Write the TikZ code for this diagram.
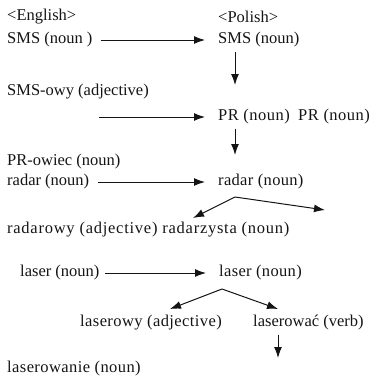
\documentclass[tikz,border=0pt]{standalone}
\usepackage{fontspec}
\setmainfont{Liberation Serif}
\usetikzlibrary{arrows.meta, positioning, calc}
\definecolor{inktext}{RGB}{20, 20, 20}

\tikzset{
  word/.style={anchor=west, inner sep=0pt, font=\fontsize{16.5}{18}\selectfont, text=inktext},
  spaced/.style={word, font=\fontsize{16.5}{18}\selectfont\addfontfeature{LetterSpace=#1}},
  link/.style={draw=inktext, line width=1pt, -{Latex[length=11pt, width=8pt]}},
}

\begin{document}
\begin{tikzpicture}[x=1pt, y=-1pt]
    \useasboundingbox (0,0) rectangle (374,383);

    % left column: English
    \node[word] (headEn)   at (7,17)  {<English>};
    \node[word] (smsEn)    at (7,40)  {SMS (noun )};
    \node[word] (smsAdj)   at (7,92)  {SMS-owy (adjective)};
    \node[word] (prAgent)  at (7,162) {PR-owiec (noun)};
    \node[word] (radarEn)  at (7,182) {radar (noun)};
    \node[spaced=4.5] (radarDer) at (7,230) {radarowy (adjective) radarzysta (noun)};
    \node[word] (laserEn)  at (20,273) {laser (noun)};
    \node[spaced=2.5] (laserAdj) at (80,323) {laserowy (adjective)};
    \node[word] (laserVb)  at (253,323) {laserować (verb)};
    \node[spaced=2.5] (laserNom) at (7,369) {laserowanie (noun)};

    % right column: Polish
    \node[word] (headPl)   at (218,17)  {<Polish>};
    \node[word] (smsPl)    at (218,40)  {SMS (noun)};
    \node[spaced=3] (prPl) at (218,117) {PR (noun)\enspace PR (noun)};
    \node[spaced=2] (radarPl) at (218,182) {radar (noun)};
    \node[spaced=2] (laserPl) at (219,273) {laser (noun)};

    % free ends
    \coordinate (prFrom)   at (99,117);
    \coordinate (smsDown)  at (235,85);
    \coordinate (prDown)   at (235,155);
    \coordinate (rFork)    at (235,197);
    \coordinate (rLeft)    at (193,218);
    \coordinate (rRight)   at (325,210);
    \coordinate (lFork)    at (222,289);
    \coordinate (lLeft)    at (170,309);
    \coordinate (lRight)   at (278,309);
    \coordinate (vbDown)   at (278,358);

    % borrowing
    \draw[link, shorten <=8pt, shorten >=13pt] (smsEn.east) -- (smsPl.west);
    \draw[link, shorten >=13pt] (prFrom) -- (prPl.west);
    \draw[link, shorten <=9pt, shorten >=13pt] (radarEn.east) -- (radarPl.west);
    \draw[link, shorten <=5pt, shorten >=13pt] (laserEn.east) -- (laserPl.west);

    % derivation
    \draw[link, shorten <=4pt] (smsPl.south -| smsDown) -- (smsDown);
    \draw[link, shorten <=4pt] (prPl.south -| prDown) -- (prDown);
    \draw[link] (rFork) -- (rLeft);
    \draw[link] (rFork) -- (rRight);
    \draw[link] (lFork) -- (lLeft);
    \draw[link] (lFork) -- (lRight);
    \draw[link, shorten <=4pt] (laserVb.south -| vbDown) -- (vbDown);
\end{tikzpicture}
\end{document}
